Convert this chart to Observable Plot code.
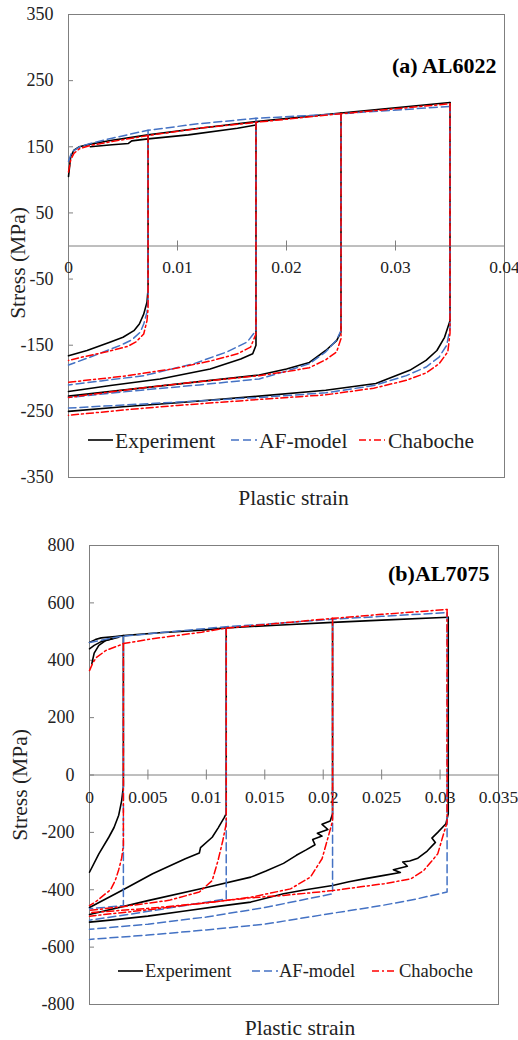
<!DOCTYPE html>
<html>
<head>
<meta charset="utf-8">
<script src="https://cdn.jsdelivr.net/npm/d3@7"></script>
<script src="https://cdn.jsdelivr.net/npm/@observablehq/plot@0.6"></script>
<style>
  body { margin: 0; background: white; }
  #wrap { position: relative; width: 518px; height: 1040px; background: white; overflow: hidden; font-family: "Liberation Serif", "DejaVu Serif", serif; }
  #wrap > svg { position: absolute; left: 0; }
  #wrap text { font-family: "Liberation Serif", "DejaVu Serif", serif; }
</style>
</head>
<body>
<div id="wrap"></div>
<script>
// ---------- tick values ----------
const aXTicks = [0, 0.01, 0.02, 0.03, 0.04];
const aYTicks = [-350, -250, -150, -50, 50, 150, 250, 350];
const bXTicks = [0, 0.005, 0.01, 0.015, 0.02, 0.025, 0.03, 0.035];
const bYTicks = [-800, -600, -400, -200, 0, 200, 400, 600, 800];
const models = ["Experiment", "AF-model", "Chaboche"];

// ---------- (a) AL6022 : [plastic strain, stress MPa] ----------
const a_exp_tension = [[0,105],[0.0002,135],[0.0005,145],[0.001,150],[0.002,154],[0.004,160],[0.0073,168],[0.012,178],[0.0172,188],[0.025,201],[0.03,209],[0.035,217]];
const a_exp_tension2 = [[0.002,150],[0.004,153],[0.0055,155],[0.0058,159],[0.0073,162],[0.011,168],[0.0155,178],[0.0172,183]];
const a_exp_c1 = [[0.0073,168],[0.0073,-65],[0.0072,-85],[0.0069,-103],[0.0065,-118],[0.006,-128],[0.005,-138],[0.00385,-145],[0.0017,-158],[0,-166]];
const a_exp_c2 = [[0.0172,188],[0.0172,-150],[0.0169,-163],[0.0158,-171],[0.013,-186],[0.0084,-201],[0.00385,-211],[0,-220]];
const a_exp_c3 = [[0.025,201],[0.025,-130],[0.0246,-143],[0.0236,-158],[0.0221,-176],[0.02,-186],[0.0175,-195],[0.012,-205],[0.006,-216],[0,-227]];
const a_exp_c4 = [[0.035,217],[0.035,-113],[0.0345,-138],[0.0338,-158],[0.0328,-173],[0.0313,-188],[0.0282,-208],[0.0236,-218],[0.0175,-227],[0.01,-237],[0.005,-243],[0,-250]];

const a_af_tension = [[0,128],[0.0003,142],[0.001,150],[0.002,155],[0.004,163],[0.0073,175],[0.012,185],[0.0172,193],[0.025,200],[0.035,211]];
const a_af_c1 = [[0.0073,175],[0.0073,-80],[0.0072,-100],[0.0069,-118],[0.0066,-130],[0.0058,-142],[0.0048,-150],[0.0023,-166],[0,-180]];
const a_af_c2 = [[0.0172,193],[0.0172,-128],[0.0164,-145],[0.01455,-160],[0.0115,-178],[0.0069,-196],[0.003,-204],[0,-210]];
const a_af_c3 = [[0.025,200],[0.025,-128],[0.0246,-142],[0.0236,-160],[0.0221,-178],[0.02,-189],[0.0175,-201],[0.012,-210],[0.006,-219],[0,-229]];
const a_af_c4 = [[0.035,211],[0.035,-125],[0.0347,-150],[0.034,-168],[0.0328,-183],[0.031,-196],[0.028,-211],[0.0236,-222],[0.0175,-229],[0.01,-236],[0,-245]];

const a_cha_tension = [[0,112],[0.0002,130],[0.0005,140],[0.001,147],[0.002,152],[0.004,158],[0.0073,167],[0.012,178],[0.0172,187],[0.025,200],[0.035,215]];
const a_cha_c1 = [[0.0073,167],[0.0073,-95],[0.0072,-113],[0.0069,-133],[0.0062,-145],[0.0054,-152],[0.0035,-160],[0.0015,-167],[0,-173]];
const a_cha_c2 = [[0.0172,187],[0.0172,-133],[0.0167,-153],[0.0155,-163],[0.013,-174],[0.0095,-186],[0.005,-197],[0,-206]];
const a_cha_c3 = [[0.025,200],[0.025,-140],[0.0246,-160],[0.0236,-172],[0.0221,-184],[0.02,-190],[0.0175,-196],[0.012,-205],[0.006,-216],[0,-229]];
const a_cha_c4 = [[0.035,215],[0.035,-132],[0.0348,-160],[0.034,-178],[0.0328,-192],[0.031,-203],[0.028,-215],[0.0236,-225],[0.0175,-232],[0.01,-241],[0.005,-248],[0,-256]];

// ---------- (b) AL7075 ----------
const b_exp_tension = [[0,462],[0.0005,472],[0.001,478],[0.0022,483],[0.0029,486],[0.006,496],[0.0096,505],[0.0117,513],[0.016,522],[0.0208,532],[0.025,540],[0.0307,550]];
const b_exp_tension2 = [[0.0002,388],[0.0004,425],[0.0008,452],[0.0014,469],[0.0025,480]];
const b_exp_tension3 = [[0,440],[0.0004,452],[0.001,465],[0.002,476]];
const b_exp_c1 = [[0.0029,486],[0.0029,-40],[0.00275,-90],[0.0025,-140],[0.0021,-183],[0.00165,-217],[0.0008,-275],[0,-339]];
const b_exp_c2 = [[0.0117,513],[0.0117,-135],[0.0115,-150],[0.011,-185],[0.0105,-217],[0.0095,-253],[0.0094,-272],[0.0082,-292],[0.0054,-344],[0.0028,-402],[0,-462]];
const b_exp_c3 = [[0.0208,532],[0.0208,-135],[0.0206,-160],[0.0199,-172],[0.0204,-190],[0.0195,-203],[0.0199,-213],[0.0191,-225],[0.0193,-243],[0.0185,-262],[0.0177,-280],[0.0166,-308],[0.0151,-335],[0.0138,-356],[0.01,-392],[0.005,-438],[0,-486]];
const b_exp_c4 = [[0.0307,550],[0.0307,-135],[0.0305,-170],[0.0298,-200],[0.0293,-220],[0.0296,-235],[0.0289,-265],[0.0281,-290],[0.0274,-300],[0.0268,-303],[0.0272,-318],[0.026,-330],[0.0266,-340],[0.0252,-350],[0.0235,-362],[0.0222,-372],[0.0208,-385],[0.0185,-400],[0.0166,-414],[0.0138,-443],[0.011,-458],[0.008,-475],[0.005,-492],[0.002,-505],[0,-513]];

const b_af_tension = [[0,462],[0.0025,482],[0.006,496],[0.0117,517],[0.0165,530],[0.0208,543],[0.025,553],[0.0306,566]];
const b_af_c1 = [[0.0029,483],[0.0029,-455],[0.0015,-461],[0,-466]];
const b_af_c2 = [[0.0117,517],[0.0117,-432],[0.008,-456],[0.004,-482],[0,-506]];
const b_af_c3 = [[0.0208,543],[0.0208,-414],[0.015,-462],[0.01,-495],[0.005,-520],[0,-538]];
const b_af_c4 = [[0.0306,566],[0.0306,-408],[0.028,-432],[0.025,-455],[0.02,-487],[0.015,-520],[0.01,-540],[0.005,-558],[0,-573]];

const b_cha_tension = [[0,364],[0.0003,392],[0.0006,410],[0.0014,434],[0.0025,451],[0.0029,458],[0.0054,475],[0.0096,498],[0.0117,512],[0.0165,530],[0.0208,546],[0.025,560],[0.0306,577]];
const b_cha_c1 = [[0.0029,458],[0.0029,-245],[0.00275,-290],[0.0025,-330],[0.0022,-368],[0.0018,-400],[0.00137,-414],[0.0005,-443],[0,-455]];
const b_cha_c2 = [[0.0117,512],[0.0117,-170],[0.0114,-230],[0.011,-298],[0.0105,-368],[0.0094,-408],[0.0068,-437],[0.003,-458],[0,-472]];
const b_cha_c3 = [[0.0208,546],[0.0208,-160],[0.0205,-205],[0.0199,-292],[0.0189,-356],[0.0172,-397],[0.0138,-426],[0.01,-446],[0.005,-465],[0,-480]];
const b_cha_c4 = [[0.0306,577],[0.0306,-165],[0.0303,-205],[0.0298,-275],[0.0286,-333],[0.0275,-362],[0.0252,-379],[0.0208,-403],[0.0166,-420],[0.0138,-428],[0.01,-445],[0.005,-470],[0,-492]];

// ---------- styling ----------
const styles = {
  "Experiment": {stroke: "#000000", strokeWidth: 1.6},
  "AF-model": {stroke: "#4472C4", strokeWidth: 1.5, strokeDasharray: "8,4"},
  "Chaboche": {stroke: "#FF0000", strokeWidth: 1.5, strokeDasharray: "7,3,2,3"}
};
const FONT = "Liberation Serif, DejaVu Serif, serif";
const GRID = "#7f7f7f";

function toRows(curveMap) {
  const rows = [];
  for (const model of models) {
    curveMap[model].forEach((curve, k) => {
      curve.forEach(([x, y]) => rows.push({x, y, model, id: model + k}));
    });
  }
  return rows;
}

function panel(c) {
  const rows = toRows(c.curves);
  const marks = [
    Plot.frame({stroke: GRID, strokeWidth: 1}),
    Plot.ruleY([0], {stroke: GRID, strokeWidth: 1}),
    Plot.ruleX(c.xTicks, {x: d => d, y1: 0, y2: 0, insetTop: -5, insetBottom: -5, stroke: GRID}),
    Plot.ruleY(c.yTicks, {y: d => d, x1: c.xDomain[0], x2: c.xDomain[0], insetRight: -5, stroke: GRID}),
    Plot.text(c.xTicks, {x: d => d, y: 0, text: d => String(d), dy: c.xLabelDy, fontSize: 17.5, fill: "#222"}),
    Plot.text(c.yTicks, {x: c.xDomain[0], y: d => d, text: d => String(d), textAnchor: "end", dx: -15, fontSize: 18, fill: "#222"}),
  ];
  for (const model of models) {
    marks.push(Plot.line(rows.filter(r => r.model === model), {x: "x", y: "y", z: "id", curve: "linear", ...styles[model]}));
  }
  marks.push(
    Plot.text([c.label], {text: d => d, frameAnchor: "top-right", textAnchor: "end", lineAnchor: "middle", dx: c.labelDx, dy: c.labelDy, fontSize: 22, fontWeight: "bold", fill: "#000"}),
    Plot.text(["Plastic strain"], {text: d => d, frameAnchor: "bottom", textAnchor: "middle", lineAnchor: "middle", dx: c.xTitleDx, dy: c.xTitleDy, fontSize: 21.5, fill: "#222"}),
    Plot.text(["Stress (MPa)"], {text: d => d, frameAnchor: "left", textAnchor: "middle", lineAnchor: "middle", rotate: -90, dx: c.yTitleDx, dy: c.yTitleDy, fontSize: 21.5, fill: "#222"})
  );
  const svg = Plot.plot({
    width: 518,
    height: c.height,
    marginLeft: c.margin[3], marginRight: c.margin[1], marginTop: c.margin[0], marginBottom: c.margin[2],
    x: {domain: c.xDomain, axis: null},
    y: {domain: c.yDomain, axis: null},
    style: {fontFamily: FONT, fontSize: "18px", background: "white", overflow: "visible", color: "#222"},
    marks
  });
  svg.setAttribute("font-family", FONT);
  svg.style.top = c.top + "px";
  return svg;
}

function legend(c) {
  const svg = d3.create("svg").attr("width", 518).attr("height", 40)
    .style("top", (c.y - 20) + "px").style("overflow", "visible");
  c.items.forEach((it, i) => {
    const st = styles[models[i]];
    svg.append("line").attr("x1", it[0]).attr("x2", it[1]).attr("y1", 20).attr("y2", 20)
      .attr("stroke", st.stroke).attr("stroke-width", st.strokeWidth)
      .attr("stroke-dasharray", st.strokeDasharray || null);
    svg.append("text").attr("x", it[2]).attr("y", 20).attr("dy", "0.35em")
      .attr("font-family", FONT).attr("font-size", c.fontSize).attr("fill", "#222")
      .text(models[i]);
  });
  return svg.node();
}

const wrap = document.getElementById("wrap");
wrap.appendChild(panel({
  top: 0, height: 515, margin: [14, 14, 38, 68],
  xDomain: [0, 0.04], yDomain: [-350, 350], xTicks: aXTicks, yTicks: aYTicks,
  curves: {
    "Experiment": [a_exp_tension, a_exp_tension2, a_exp_c1, a_exp_c2, a_exp_c3, a_exp_c4],
    "AF-model": [a_af_tension, a_af_c1, a_af_c2, a_af_c3, a_af_c4],
    "Chaboche": [a_cha_tension, a_cha_c1, a_cha_c2, a_cha_c3, a_cha_c4]
  },
  label: "(a) AL6022", labelDx: -8, labelDy: 51,
  xLabelDy: 21, xTitleDx: 7, xTitleDy: 21, yTitleDx: -50, yTitleDy: 17
}));
wrap.appendChild(panel({
  top: 520, height: 520, margin: [25, 20, 36, 89],
  xDomain: [0, 0.035], yDomain: [-800, 800], xTicks: bXTicks, yTicks: bYTicks,
  curves: {
    "Experiment": [b_exp_tension, b_exp_tension2, b_exp_tension3, b_exp_c1, b_exp_c2, b_exp_c3, b_exp_c4],
    "AF-model": [b_af_tension, b_af_c1, b_af_c2, b_af_c3, b_af_c4],
    "Chaboche": [b_cha_tension, b_cha_c1, b_cha_c2, b_cha_c3, b_cha_c4]
  },
  label: "(b)AL7075", labelDx: -9, labelDy: 28,
  xLabelDy: 22, xTitleDx: 6, xTitleDy: 24, yTitleDx: -69, yTitleDy: 10
}));
wrap.appendChild(legend({y: 440, fontSize: 21.5, items: [[88, 113, 115], [231, 257, 259], [359, 385, 388]]}));
wrap.appendChild(legend({y: 971, fontSize: 18.5, items: [[118, 143, 145], [252, 278, 279], [372, 397, 399]]}));
</script>
</body>
</html>
